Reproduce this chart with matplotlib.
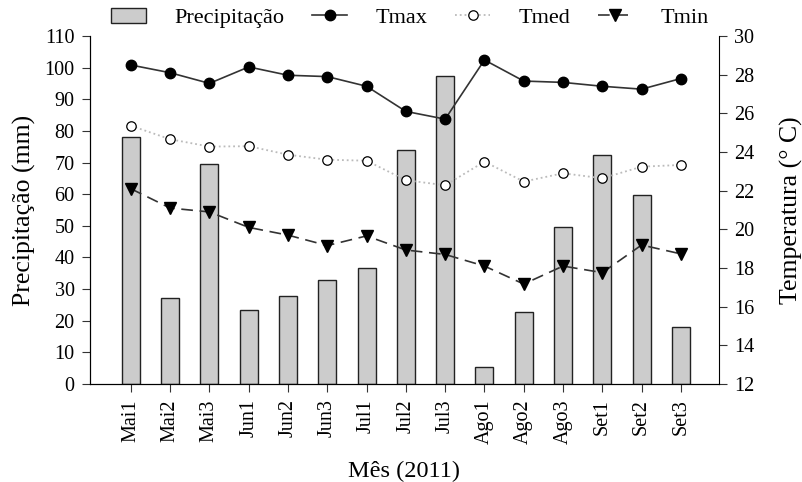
import matplotlib.pyplot as plt
import numpy as np

plt.rcParams['font.family'] = ['Liberation Serif', 'DejaVu Serif']

meses = ['Mai1', 'Mai2', 'Mai3', 'Jun1', 'Jun2', 'Jun3', 'Jul1', 'Jul2', 'Jul3',
         'Ago1', 'Ago2', 'Ago3', 'Set1', 'Set2', 'Set3']
precipitacao = [78.1, 27.2, 69.4, 23.4, 27.9, 33.0, 36.6, 74.0, 97.3,
                5.3, 22.8, 49.6, 72.4, 59.7, 18.1]
tmax = [28.5, 28.1, 27.55, 28.4, 27.97, 27.9, 27.4, 26.1, 25.7,
        28.76, 27.67, 27.6, 27.4, 27.25, 27.8]
tmed = [25.36, 24.66, 24.28, 24.3, 23.86, 23.6, 23.55, 22.54, 22.28,
        23.5, 22.47, 22.9, 22.64, 23.24, 23.33]
tmin = [22.1, 21.1, 20.9, 20.1, 19.7, 19.16, 19.66, 18.93, 18.7,
        18.1, 17.17, 18.1, 17.76, 19.19, 18.73]

x = np.arange(len(meses))

fig = plt.figure(figsize=(8.02, 4.82), dpi=100)
ax = fig.add_axes([90/802, 1-384/482, (719-90)/802, (384-36)/482])

barras = ax.bar(x, precipitacao, width=0.46, color='#cccccc', edgecolor='#222222',
                linewidth=1.0, label='Precipitação', zorder=1)
ax.set_ylim(0, 110)
ax.set_yticks(range(0, 111, 10))
ax.set_xlim(-1.04, 14.97)
ax.set_xticks(x)
ax.set_xticklabels(meses, rotation=90)
ax.set_ylabel('Precipitação (mm)', fontsize=18.5, labelpad=6)
ax.set_xlabel('Mês (2011)', fontsize=17.5, labelpad=12)
ax.spines['top'].set_visible(False)
ax.spines['right'].set_visible(False)
ax.tick_params(direction='out', length=6, pad=5, labelsize=14.5, color='#333333')

ax2 = ax.twinx()
l1, = ax2.plot(x, tmax, '-', color='#333333', lw=1.2, marker='o', markersize=7.5,
               markerfacecolor='black', markeredgecolor='black', label='Tmax')
l2, = ax2.plot(x, tmed, ':', color='#bbbbbb', lw=1.3, marker='o', markersize=6.8,
               markerfacecolor='white', markeredgecolor='black', markeredgewidth=0.9,
               label='Tmed')
l3, = ax2.plot(x, tmin, '--', color='#333333', lw=1.2, dashes=(7, 4), marker='v',
               markersize=8.5, markerfacecolor='black', markeredgecolor='black',
               label='Tmin')
ax2.set_ylim(12, 30)
ax2.set_yticks(range(12, 31, 2))
ax2.set_ylabel('Temperatura (° C)', fontsize=18.5, labelpad=18)
ax2.spines['top'].set_visible(False)
ax2.tick_params(direction='out', length=6, pad=5, labelsize=14.5, color='#333333')
ax.set_zorder(0)
ax2.set_zorder(1)

fig.legend([barras, l1, l2, l3], ['Precipitação', 'Tmax', 'Tmed', 'Tmin'],
           loc='center', bbox_to_anchor=(410/802, 1-18/482), ncol=4, frameon=False,
           fontsize=16, handlelength=1.6, handletextpad=1.25, columnspacing=1.25,
           borderpad=0.1)

fig.savefig('out.png', dpi=100)
